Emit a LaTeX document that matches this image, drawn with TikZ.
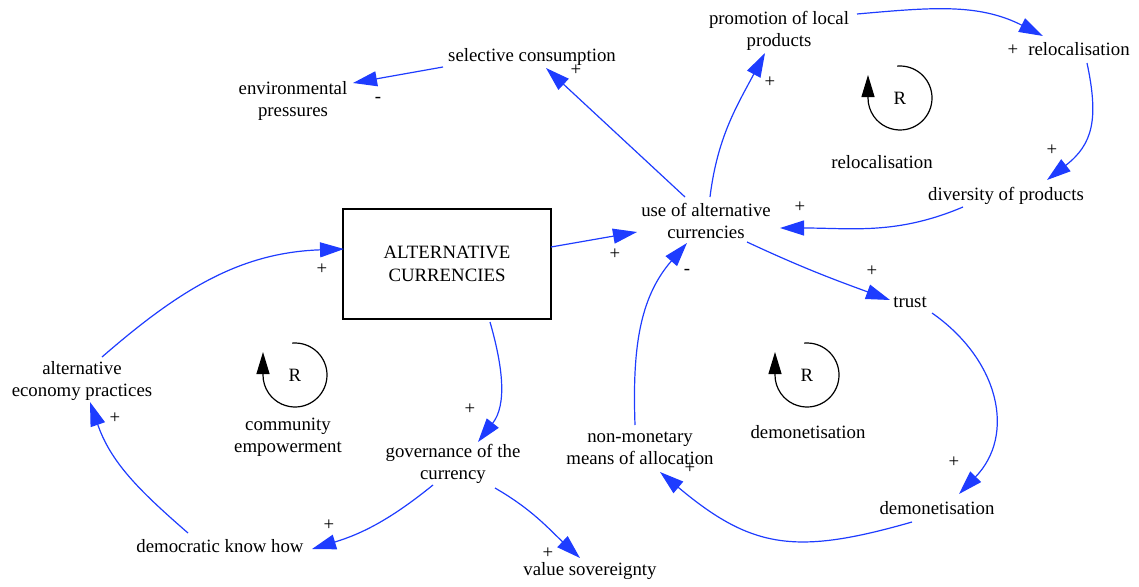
\documentclass[tikz,border=0pt]{standalone}
\usepackage{fontspec}
\setmainfont{Liberation Serif}
\usetikzlibrary{arrows.meta,calc}
\definecolor{cldblue}{RGB}{30,60,255}
\tikzset{
  var/.style={align=center, inner sep=1pt, font=\fontsize{18.8}{22}\selectfont},
  sign/.style={inner sep=0pt, font=\fontsize{18.8}{22}\selectfont},
  link/.style={draw=cldblue, line width=1.2pt, -{Triangle[length=24pt,width=15pt]}},
  loopsym/.style={draw=black, line width=1.2pt, -{Triangle[length=22pt,width=13pt]}},
  stock/.style={draw, line width=1.3pt, minimum width=208pt, minimum height=110pt, align=center, inner sep=0pt, font=\fontsize{18.8}{23}\selectfont}
}
\begin{document}
\begin{tikzpicture}[x=1pt,y=1pt]
\useasboundingbox (0,0) rectangle (1139,-586);
% variables
\node[var] (sel) at (532,-57) {selective consumption};
\node[var] (env) at (293,-101) {environmental\\pressures};
\node[var] (promo) at (779,-31) {promotion of local\\products};
\node[var] (reloc) at (1079,-49) {relocalisation};
\node[var] (div) at (1006,-196) {diversity of products};
\node[var] (use) at (706,-221) {use of alternative\\currencies};
\node[stock] (box) at (447,-264) {ALTERNATIVE\\CURRENCIES};
\node[var] (trust) at (910,-302) {trust};
\node[var] (demon) at (937,-508) {demonetisation};
\node[var] (nonmon) at (640,-448) {non-monetary\\means of allocation};
\node[var] (aep) at (82,-381) {alternative\\economy practices};
\node[var] (gov) at (453,-464) {governance of the\\currency};
\node[var] (dkh) at (220,-546) {democratic know how};
\node[var] (vs) at (590,-571) {value sovereignty};
% loop markers
\node[var] (R1) at (900,-98) {R};
\node[var] (L1) at (882,-162) {relocalisation};
\node[var] (R2) at (807,-375) {R};
\node[var] (L2) at (808,-432) {demonetisation};
\node[var] (R3) at (295,-375) {R};
\node[var] (L3) at (288,-437) {community\\empowerment};
\draw[loopsym] ([shift={(95:32)}]R1.center) arc[start angle=95,end angle=-180,radius=32] -- ++(0,23);
\draw[loopsym] ([shift={(95:32)}]R2.center) arc[start angle=95,end angle=-180,radius=32] -- ++(0,23);
\draw[loopsym] ([shift={(95:32)}]R3.center) arc[start angle=95,end angle=-180,radius=32] -- ++(0,23);
% connectors
\draw[link] ([shift={(-89,-10)}]sel.center) -- ([shift={(60,18)}]env.center);
\draw[link] ([shift={(-21,24)}]use.center) -- ([shift={(14,-11)}]sel.center);
\draw[link] ([shift={(4,24)}]use.center) to[out=83,in=242] ([shift={(-14,-22)}]promo.center);
\draw[link] ([shift={(78,17)}]promo.center) to[out=5,in=153] ([shift={(-36,13)}]reloc.center);
\draw[link] ([shift={(8,-14)}]reloc.center) to[out=-78,in=38,looseness=1.2] ([shift={(41,16)}]div.center);
\draw[link] ([shift={(-43,-11)}]div.center) to[out=203,in=0] ([shift={(74,-7)}]use.center);
\draw[link] ([shift={(104,17)}]box.center) -- ([shift={(-69,-11)}]use.center);
\draw[link] ([shift={(41,-21)}]use.center) to[out=-25,in=160] ([shift={(-20,2)}]trust.center);
\draw[link] ([shift={(22,-11)}]trust.center) to[out=-35,in=46,looseness=1.15] ([shift={(22,14)}]demon.center);
\draw[link] ([shift={(-25,-14)}]demon.center) to[out=196,in=320,looseness=1.2] ([shift={(20,-24)}]nonmon.center);
\draw[link] ([shift={(-5,23)}]nonmon.center) to[out=92,in=229] ([shift={(-19,-22)}]use.center);
\draw[link] ([shift={(43,-58)}]box.center) to[out=286,in=52] ([shift={(25,22)}]gov.center);
\draw[link] ([shift={(-20,-21)}]gov.center) to[out=219,in=17] ([shift={(92,-3)}]dkh.center);
\draw[link] ([shift={(42,-24)}]gov.center) to[out=-30,in=137] ([shift={(-10,13)}]vs.center);
\draw[link] ([shift={(-32,13)}]dkh.center) to[out=139,in=289] ([shift={(8,-21)}]aep.center);
\draw[link] ([shift={(20,24)}]aep.center) to[out=41,in=182] ([shift={(-103,15)}]box.center);
% polarity signs
\node[sign] (p1) at (576,-70) {+};
\node[sign] (p2) at (378,-100) {-};
\node[sign] (p3) at (770,-82) {+};
\node[sign] (p4) at (1013,-50) {+};
\node[sign] (p5) at (1052,-150) {+};
\node[sign] (p6) at (800,-207) {+};
\node[sign] (p7) at (615,-254) {+};
\node[sign] (p8) at (687,-272) {-};
\node[sign] (p9) at (872,-271) {+};
\node[sign] (p10) at (954,-462) {+};
\node[sign] (p11) at (690,-468) {+};
\node[sign] (p12) at (470,-409) {+};
\node[sign] (p13) at (329,-525) {+};
\node[sign] (p14) at (548,-553) {+};
\node[sign] (p15) at (115,-418) {+};
\node[sign] (p16) at (322,-269) {+};
\end{tikzpicture}
\end{document}
